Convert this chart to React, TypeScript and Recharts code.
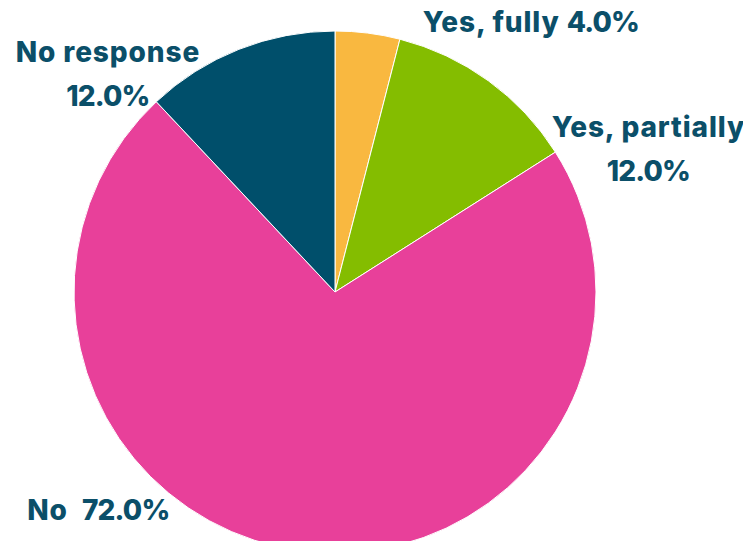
import { Cell, Pie, PieChart } from "recharts";

const categories = ["Yes, fully", "Yes, partially", "No", "No response"];
const shares = [4.0, 12.0, 72.0, 12.0];
const colors = ["#F9B840", "#84BD00", "#E8409A", "#004F6B"];

const data = categories.map((name, i) => ({ name, value: shares[i] }));

const INK = "#0B4F69";
const RAD = Math.PI / 180;

// label placement relative to the slice mid-point on the rim
const LABEL_LAYOUT = [
  { dx: 55, dy: -1, anchor: "start", lines: 1 },
  { dx: 160, dy: 56, anchor: "middle", lines: 2 },
  { dx: -275, dy: -31, anchor: "start", lines: 1, gap: true },
  { dx: -131, dy: 13, anchor: "middle", lines: 2 },
];

function SliceLabel(props: any) {
  const { cx, cy, midAngle, outerRadius, index, name, value } = props;
  const layout = LABEL_LAYOUT[index];
  const px = cx + outerRadius * Math.cos(-midAngle * RAD);
  const py = cy + outerRadius * Math.sin(-midAngle * RAD);
  const x = px + layout.dx;
  const y = py + layout.dy;
  const pct = `${Number(value).toFixed(1)}%`;
  return (
    <text
      x={x}
      y={y}
      fill={INK}
      fontSize={28}
      fontWeight={800}
      fontFamily="Inter, sans-serif"
      letterSpacing={0.9}
      textAnchor={layout.anchor}
    >
      {layout.lines === 2 ? (
        <>
          <tspan x={x}>{name}</tspan>
          <tspan x={x} dy={44} letterSpacing={-0.8}>
            {pct}
          </tspan>
        </>
      ) : (
        <>
          <tspan>{layout.gap ? `${name}\u00a0\u00a0` : `${name} `}</tspan>
          <tspan letterSpacing={-0.8}>{pct}</tspan>
        </>
      )}
    </text>
  );
}

export default function App() {
  return (
    <div style={{ margin: -8, width: 751, height: 549, overflow: "hidden", background: "#fff" }}>
      <PieChart width={751} height={549} margin={{ top: 0, right: 0, bottom: 0, left: 0 }}>
        <Pie
          data={data}
          dataKey="value"
          nameKey="name"
          cx={335}
          cy={292}
          outerRadius={261}
          startAngle={90}
          endAngle={-270}
          stroke="#ffffff"
          strokeWidth={1}
          labelLine={false}
          label={SliceLabel}
          isAnimationActive={false}
        >
          {data.map((d, i) => (
            <Cell key={d.name} fill={colors[i]} />
          ))}
        </Pie>
      </PieChart>
    </div>
  );
}
